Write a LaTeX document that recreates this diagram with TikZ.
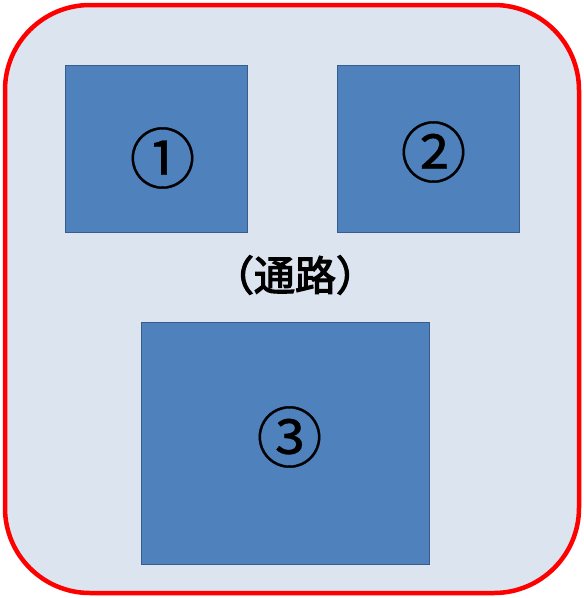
\documentclass[tikz,border=0pt]{standalone}
\usepackage{fontspec}
\newfontfamily\cjk[FakeBold=0.5]{Noto Sans CJK JP}
\newfontfamily\cjkmid[FakeBold=3]{Noto Sans CJK JP}
\definecolor{bgfill}{HTML}{DCE4F0}
\definecolor{boxfill}{HTML}{4F81BD}
\definecolor{boxline}{HTML}{385D8A}
\begin{document}
\begin{tikzpicture}[x=1pt,y=-1pt,
  room/.style={draw=boxline,fill=boxfill,line width=1pt},
  num/.style={font=\cjk\fontsize{66}{66}\selectfont,text=black,inner sep=0pt}]
\useasboundingbox (0,0) rectangle (584,598);
\draw[red,line width=4.5pt,fill=bgfill,rounded corners=85pt] (5,5) rectangle (579,593);
\draw[room] (65,65) rectangle (247,232);
\draw[room] (337,65) rectangle (519,232);
\draw[room] (141,322) rectangle (429,564);
\node[num] (n1) at (162.5,158) {①};
\node[num] (n2) at (433.5,152) {②};
\node[num] (n3) at (289.5,437) {③};
\node[font=\cjkmid\fontsize{41}{41}\selectfont,inner sep=0pt] (t) at (295,275) {（通路）};
\end{tikzpicture}
\end{document}
